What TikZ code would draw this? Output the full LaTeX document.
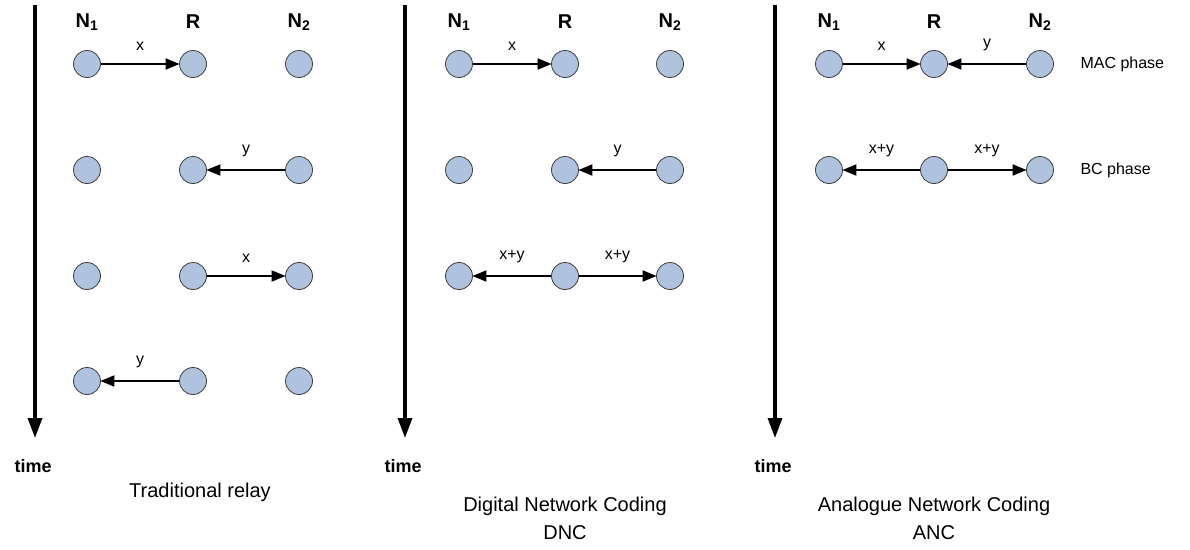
\documentclass[tikz,border=0pt]{standalone}
\usepackage{fontspec}
\setmainfont{Liberation Sans}
\usetikzlibrary{arrows.meta}
\definecolor{nodefill}{RGB}{176,195,222}
\definecolor{nodeline}{RGB}{60,60,60}
\tikzset{
  dot/.style={circle,draw=nodeline,line width=0.8pt,fill=nodefill,minimum size=27pt,inner sep=0pt},
  link/.style={line width=1.9pt,-{Triangle[length=14pt,width=11pt]},shorten >=-0.5pt},
  timeax/.style={line width=3.3pt,-{Triangle[length=20pt,width=14pt]}},
  hdr/.style={font=\fontsize{20}{24}\selectfont\bfseries},
  lbl/.style={font=\fontsize{16}{19}\selectfont},
  edgelbl/.style={font=\fontsize{16}{19}\selectfont,above=9pt},
  captxt/.style={font=\fontsize{20}{28}\selectfont,align=center},
  timelbl/.style={font=\fontsize{18}{22}\selectfont\bfseries,anchor=west},
}
\begin{document}
\begin{tikzpicture}[x=1pt,y=-1pt]
\useasboundingbox (0,0) rectangle (1190,549);
% ---------- panel 1 ----------
\coordinate (t1a) at (35,5);
\coordinate (t1b) at (35,438);
\draw[timeax] (t1a) -- (t1b);
\node[timelbl] (time1) at (11,466) {time};
\node[hdr] (h1n1) at (87,22) {N\textsubscript{1}};
\node[hdr] (h1r) at (193,22) {R};
\node[hdr] (h1n2) at (299,22) {N\textsubscript{2}};
\foreach \r/\yy in {1/64,2/170,3/276,4/381}{
  \node[dot] (a\r n1) at (87,\yy) {};
  \node[dot] (a\r r) at (193,\yy) {};
  \node[dot] (a\r n2) at (299,\yy) {};
}
\draw[link] (a1n1) -- node[edgelbl] (la1) {x} (a1r);
\draw[link] (a2n2) -- node[edgelbl] (la2) {y} (a2r);
\draw[link] (a3r) -- node[edgelbl] (la3) {x} (a3n2);
\draw[link] (a4r) -- node[edgelbl] (la4) {y} (a4n1);
\node[captxt] (cap1) at (200,492) {Traditional relay};
% ---------- panel 2 ----------
\coordinate (t2a) at (405,5);
\coordinate (t2b) at (405,438);
\draw[timeax] (t2a) -- (t2b);
\node[timelbl] (time2) at (381,466) {time};
\node[hdr] (h2n1) at (459,22) {N\textsubscript{1}};
\node[hdr] (h2r) at (565,22) {R};
\node[hdr] (h2n2) at (670,22) {N\textsubscript{2}};
\foreach \r/\yy in {1/64,2/170,3/276}{
  \node[dot] (b\r n1) at (459,\yy) {};
  \node[dot] (b\r r) at (565,\yy) {};
  \node[dot] (b\r n2) at (670,\yy) {};
}
\draw[link] (b1n1) -- node[edgelbl] (lb1) {x} (b1r);
\draw[link] (b2n2) -- node[edgelbl] (lb2) {y} (b2r);
\draw[link] (b3r) -- node[edgelbl] (lb3) {x+y} (b3n1);
\draw[link] (b3r) -- node[edgelbl] (lb4) {x+y} (b3n2);
\node[captxt] (cap2) at (565,518) {Digital Network Coding\\DNC};
% ---------- panel 3 ----------
\coordinate (t3a) at (775,5);
\coordinate (t3b) at (775,438);
\draw[timeax] (t3a) -- (t3b);
\node[timelbl] (time3) at (751,466) {time};
\node[hdr] (h3n1) at (829,22) {N\textsubscript{1}};
\node[hdr] (h3r) at (934,22) {R};
\node[hdr] (h3n2) at (1040,22) {N\textsubscript{2}};
\foreach \r/\yy in {1/64,2/170}{
  \node[dot] (c\r n1) at (829,\yy) {};
  \node[dot] (c\r r) at (934,\yy) {};
  \node[dot] (c\r n2) at (1040,\yy) {};
}
\draw[link] (c1n1) -- node[edgelbl] (lc1) {x} (c1r);
\draw[link] (c1n2) -- node[edgelbl] (lc2) {y} (c1r);
\draw[link] (c2r) -- node[edgelbl] (lc3) {x+y} (c2n1);
\draw[link] (c2r) -- node[edgelbl] (lc4) {x+y} (c2n2);
\node[lbl,anchor=west] (mac) at (1077,64) {MAC phase};
\node[lbl,anchor=west] (bc) at (1077,170) {BC phase};
\node[captxt] (cap3) at (934,518) {Analogue Network Coding\\ANC};
\end{tikzpicture}
\end{document}
